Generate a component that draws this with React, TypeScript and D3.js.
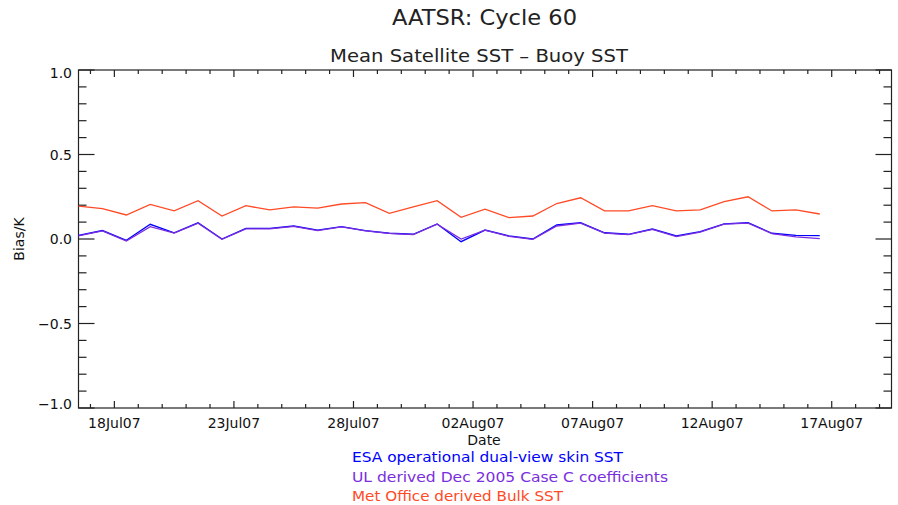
import React from "react";
import * as d3 from "d3";

// daily mean bias, one point per day (plotted at midday)
const dates = [
  "2007-07-16", "2007-07-17", "2007-07-18", "2007-07-19", "2007-07-20", "2007-07-21",
  "2007-07-22", "2007-07-23", "2007-07-24", "2007-07-25", "2007-07-26", "2007-07-27",
  "2007-07-28", "2007-07-29", "2007-07-30", "2007-07-31", "2007-08-01", "2007-08-02",
  "2007-08-03", "2007-08-04", "2007-08-05", "2007-08-06", "2007-08-07", "2007-08-08",
  "2007-08-09", "2007-08-10", "2007-08-11", "2007-08-12", "2007-08-13", "2007-08-14",
  "2007-08-15", "2007-08-16",
];

const esaDualView = [
  0.022, 0.05, -0.008, 0.087, 0.037, 0.096, 0.0, 0.063, 0.063, 0.077, 0.053, 0.073,
  0.05, 0.034, 0.028, 0.089, -0.016, 0.053, 0.018, 0.0, 0.083, 0.096, 0.037, 0.028,
  0.059, 0.018, 0.043, 0.089, 0.096, 0.034, 0.022, 0.02,
];

const ulCaseC = [
  0.018, 0.048, -0.012, 0.073, 0.035, 0.094, -0.002, 0.06, 0.06, 0.075, 0.05, 0.072,
  0.048, 0.033, 0.026, 0.088, 0.0, 0.052, 0.016, -0.002, 0.077, 0.094, 0.035, 0.026,
  0.057, 0.014, 0.04, 0.088, 0.094, 0.032, 0.012, 0.002,
];

const metOfficeBulk = [
  0.195, 0.18, 0.142, 0.205, 0.167, 0.227, 0.136, 0.197, 0.172, 0.19, 0.183, 0.207,
  0.215, 0.152, 0.19, 0.227, 0.128, 0.176, 0.126, 0.136, 0.21, 0.244, 0.167, 0.167,
  0.197, 0.166, 0.172, 0.221, 0.25, 0.166, 0.172, 0.148,
];

const yMajorTicks = [-1.0, -0.5, 0.0, 0.5, 1.0];
const xLabelDays = ["2007-07-18", "2007-07-23", "2007-07-28", "2007-08-02", "2007-08-07", "2007-08-12", "2007-08-17"];

const series = [
  { name: "ESA operational dual-view skin SST", values: esaDualView, color: "#0000ff", labelLen: 271 },
  { name: "UL derived Dec 2005 Case C coefficients", values: ulCaseC, color: "#7a2ee0", labelLen: 316 },
  { name: "Met Office derived Bulk SST", values: metOfficeBulk, color: "#ff4a26", labelLen: 211 },
];

const W = 898;
const H = 505;
const margin = { top: 70, right: 6.5, bottom: 97, left: 78.5 };
const font = "'DejaVu Sans', sans-serif";
const axisColor = "#222";

export default function App() {
  const x0 = margin.left;
  const x1 = W - margin.right;
  const y0 = H - margin.bottom;
  const y1 = margin.top;

  const parse = d3.utcParse("%Y-%m-%d");
  const noon = (s: string) => d3.utcHour.offset(parse(s) as Date, 12);

  const xScale = d3
    .scaleUtc()
    .domain([noon("2007-07-16"), noon("2007-08-19")])
    .range([x0, x1]);
  const yScale = d3.scaleLinear().domain([-1, 1]).range([y0, y1]);

  const line = d3
    .line<number>()
    .x((_, i) => xScale(noon(dates[i])))
    .y((v) => yScale(v));

  // one tick per day, long ones where a date label sits
  const dayTicks = d3.utcDay.range(d3.utcDay.ceil(xScale.domain()[0]), xScale.domain()[1]);
  const majorSet = new Set(xLabelDays);
  const fmtKey = d3.utcFormat("%Y-%m-%d");
  const fmtLabel = d3.utcFormat("%d%b%y");
  const yMinor = d3.range(-10, 11).map((k) => k / 10);

  const xMaj = 7, xMin = 4, yMaj = 16, yMin = 8;

  return (
    <svg
      width={W}
      height={H}
      style={{ position: "absolute", left: 0, top: 0, background: "#fff" }}
      fontFamily={font}
    >
      <text x={484.5} y={25} textAnchor="middle" fontSize={22} textLength={185} lengthAdjust="spacingAndGlyphs" fill="#222">
        AATSR: Cycle 60
      </text>
      <text x={479} y={62} textAnchor="middle" fontSize={18} textLength={298} lengthAdjust="spacingAndGlyphs" fill="#222">
        Mean Satellite SST – Buoy SST
      </text>

      {/* frame */}
      <rect x={x0} y={y1} width={x1 - x0} height={y0 - y1} fill="none" stroke={axisColor} strokeWidth={1.2} />

      {/* x ticks on bottom and top */}
      {dayTicks.map((d) => {
        const xx = xScale(d);
        const len = majorSet.has(fmtKey(d)) ? xMaj : xMin;
        return (
          <g key={d.toISOString()} stroke={axisColor} strokeWidth={1.2}>
            <line x1={xx} x2={xx} y1={y0} y2={y0 - len} />
            <line x1={xx} x2={xx} y1={y1} y2={y1 + len} />
          </g>
        );
      })}
      {xLabelDays.map((s) => {
        const d = parse(s) as Date;
        return (
          <text key={s} x={xScale(d)} y={428} textAnchor="middle" fontSize={14} fill="#111">
            {fmtLabel(d)}
          </text>
        );
      })}

      {/* y ticks on left and right */}
      {yMinor.map((v) => {
        const yy = yScale(v);
        const len = Math.abs(v * 2 - Math.round(v * 2)) < 1e-6 ? yMaj : yMin;
        return (
          <g key={v} stroke={axisColor} strokeWidth={1.2}>
            <line x1={x0} x2={x0 + len} y1={yy} y2={yy} />
            <line x1={x1} x2={x1 - len} y1={yy} y2={yy} />
          </g>
        );
      })}
      {yMajorTicks.map((v) => {
        const shift = v === 1 ? 3 : v === -1 ? -4 : 0;
        return (
          <text key={v} x={72} y={yScale(v) + 5 + shift} textAnchor="end" fontSize={14} fill="#111">
            {v < 0 ? "−" + Math.abs(v).toFixed(1) : v.toFixed(1)}
          </text>
        );
      })}

      <text transform="translate(24,239) rotate(-90)" textAnchor="middle" fontSize={14} fill="#111">
        Bias/K
      </text>
      <text x={484} y={445} textAnchor="middle" fontSize={14} fill="#111">
        Date
      </text>

      {/* series */}
      {series.map((s) => (
        <path key={s.name} d={line(s.values) || ""} fill="none" stroke={s.color} strokeWidth={1.3} />
      ))}

      {/* legend */}
      {series.map((s, i) => (
        <text
          key={s.name}
          x={352}
          y={462 + i * 19.5}
          fontSize={14}
          fill={s.color}
          textLength={s.labelLen}
          lengthAdjust="spacingAndGlyphs"
        >
          {s.name}
        </text>
      ))}
    </svg>
  );
}
